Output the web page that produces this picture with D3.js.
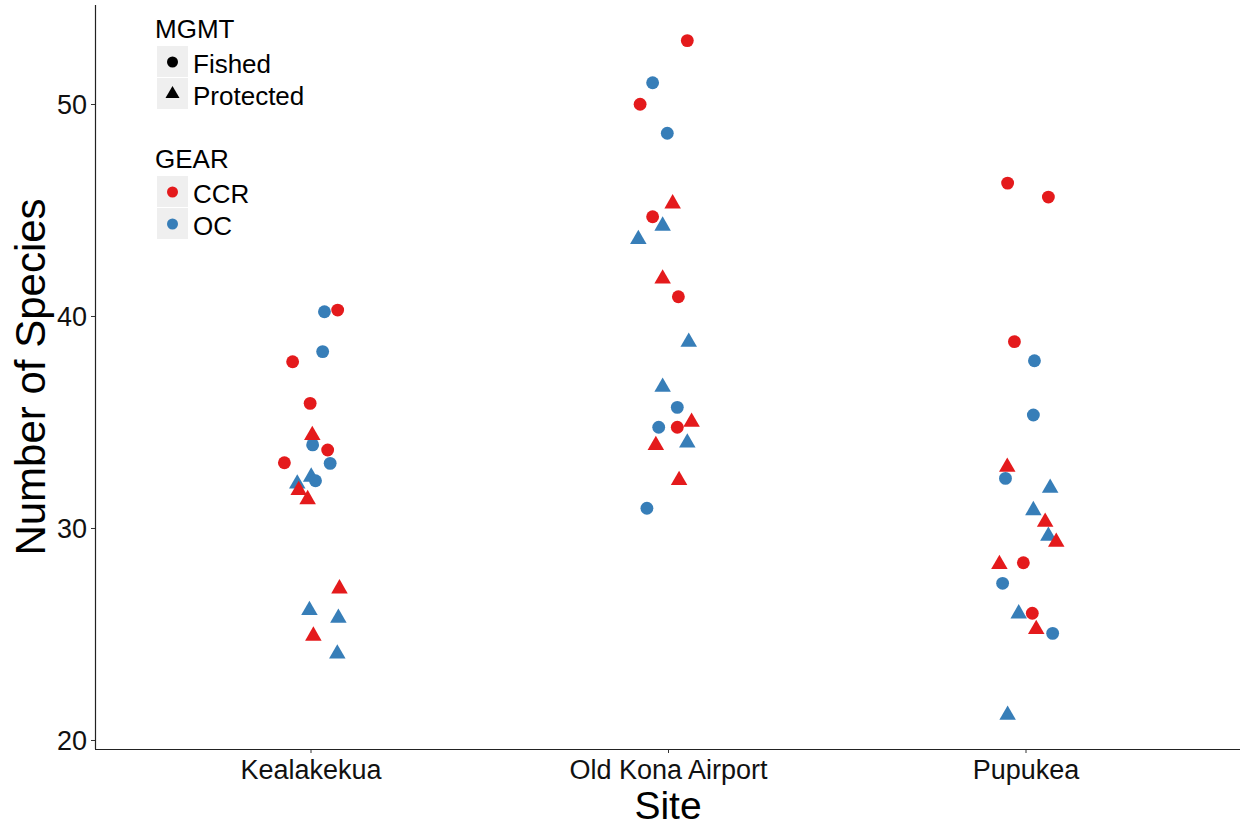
<!DOCTYPE html>
<html>
<head>
<meta charset="utf-8">
<script src="https://cdn.jsdelivr.net/npm/d3@7"></script>
<style>
  html, body { margin: 0; padding: 0; background: #ffffff; }
  svg { display: block; font-family: "Liberation Sans", Arial, sans-serif; }
</style>
</head>
<body>
<svg id="chart" width="1241" height="826"></svg>
<script>
// Sites along the x axis
const sites = ["Kealakekua", "Old Kona Airport", "Pupukea"];
const yTicks = [20, 30, 40, 50];

const gearLevels = ["CCR", "OC"];
const gearColors = ["#E41A1C", "#377EB8"];
const mgmtLevels = ["Fished", "Protected"];

// Species counts per site (one inner array per site), with horizontal jitter in category-step units
const ccrFished = [
  [40.28, 37.84, 35.88, 33.68, 33.08],
  [52.99, 49.99, 44.68, 40.91, 34.75],
  [46.27, 45.61, 38.79, 28.36, 25.98]
];
const ccrFishedJitter = [
  [0.076, -0.050, -0.001, 0.048, -0.073],
  [0.054, -0.078, -0.043, 0.029, 0.026],
  [-0.050, 0.064, -0.031, -0.006, 0.019]
];

const ocFished = [
  [40.20, 38.32, 33.92, 33.05, 32.23],
  [51.00, 48.62, 35.69, 34.75, 30.93],
  [37.89, 35.33, 32.34, 27.39, 25.03]
];
const ocFishedJitter = [
  [0.039, 0.034, 0.006, 0.055, 0.014],
  [-0.043, -0.002, 0.026, -0.026, -0.059],
  [0.025, 0.022, -0.056, -0.064, 0.076]
];

const ccrProtected = [
  [34.37, 31.78, 31.35, 27.14, 24.91],
  [45.30, 41.76, 35.00, 33.90, 32.25],
  [32.88, 30.28, 29.34, 28.29, 25.22]
];
const ccrProtectedJitter = [
  [0.005, -0.033, -0.008, 0.081, 0.008],
  [0.013, -0.015, 0.066, -0.034, 0.031],
  [-0.051, 0.055, 0.086, -0.073, 0.030]
];

const ocProtected = [
  [32.41, 32.09, 26.12, 25.75, 24.07],
  [44.25, 43.62, 38.77, 36.65, 34.02],
  [31.89, 30.83, 29.62, 25.96, 21.18]
];
const ocProtectedJitter = [
  [0.002, -0.037, -0.003, 0.078, 0.075],
  [-0.015, -0.083, 0.058, -0.015, 0.054],
  [0.069, 0.022, 0.064, -0.019, -0.050]
];

// Long-format rows, in drawing order
const groups = [
  { gear: "OC",  mgmt: "Protected", values: ocProtected,  jitter: ocProtectedJitter },
  { gear: "OC",  mgmt: "Fished",    values: ocFished,     jitter: ocFishedJitter },
  { gear: "CCR", mgmt: "Fished",    values: ccrFished,    jitter: ccrFishedJitter },
  { gear: "CCR", mgmt: "Protected", values: ccrProtected, jitter: ccrProtectedJitter }
];
const rows = [];
groups.forEach(g => {
  sites.forEach((s, i) => {
    g.values[i].forEach((v, k) => {
      rows.push({ site: s, gear: g.gear, mgmt: g.mgmt, species: v, jitter: g.jitter[i][k] });
    });
  });
});

const svg = d3.select("#chart");
const panel = { left: 95, right: 1240, top: 5, bottom: 749 };

const x = d3.scalePoint().domain(sites).range([panel.left + 1, panel.right]).padding(0.6);
const y = d3.scaleLinear().domain([19.575, 54.67]).range([panel.bottom, panel.top]);
const color = d3.scaleOrdinal().domain(gearLevels).range(gearColors);
const shape = d3.scaleOrdinal().domain(mgmtLevels).range([d3.symbolCircle, d3.symbolTriangle]);
const symbolSize = { Fished: 130, Protected: 118 };

// Axes
const xAxis = svg.append("g")
  .attr("transform", `translate(0,${panel.bottom})`)
  .call(d3.axisBottom(x).tickSize(4).tickPadding(8).tickSizeOuter(0));
const yAxis = svg.append("g")
  .attr("transform", `translate(${panel.left},0)`)
  .call(d3.axisLeft(y).tickValues(yTicks).tickSize(4).tickPadding(4).tickSizeOuter(0));

[xAxis, yAxis].forEach(a => {
  a.select(".domain").remove();
  a.selectAll(".tick line").attr("stroke", "#333").attr("stroke-width", 1);
  a.selectAll(".tick text").attr("fill", "#111").style("font-size", "27px").attr("font-family", null);
});
xAxis.selectAll(".tick text").attr("dy", "0.68em");
yAxis.selectAll(".tick text").attr("dy", "0.35em");

svg.append("line")
  .attr("x1", panel.left).attr("x2", panel.right)
  .attr("y1", panel.bottom + 0.5).attr("y2", panel.bottom + 0.5)
  .attr("stroke", "#222").attr("stroke-width", 1.2);
svg.append("line")
  .attr("x1", panel.left + 0.5).attr("x2", panel.left + 0.5)
  .attr("y1", panel.top).attr("y2", panel.bottom)
  .attr("stroke", "#222").attr("stroke-width", 1.2);

// Axis titles
svg.append("text")
  .attr("x", x("Old Kona Airport")).attr("y", 819)
  .attr("text-anchor", "middle").attr("fill", "#000")
  .style("font-size", "39px").text("Site");
svg.append("text")
  .attr("transform", `translate(45,${(panel.top + panel.bottom) / 2}) rotate(-90)`)
  .attr("text-anchor", "middle").attr("fill", "#000")
  .style("font-size", "42px").text("Number of Species");

// Points
const step = x.step();
svg.append("g").selectAll("path")
  .data(rows)
  .join("path")
  .attr("transform", d => `translate(${x(d.site) + d.jitter * step},${y(d.species)})`)
  .attr("d", d => d3.symbol().type(shape(d.mgmt)).size(symbolSize[d.mgmt])())
  .attr("fill", d => color(d.gear));

// Legends
const legend = svg.append("g").style("font-size", "26px");
const keyX = 157, keyW = 31, keyH = 32;

function drawLegend(title, titleY, boxTop, items) {
  legend.append("text").attr("x", 155).attr("y", titleY).attr("fill", "#000").text(title);
  items.forEach((it, i) => {
    const top = boxTop + i * keyH;
    legend.append("rect")
      .attr("x", keyX).attr("y", top).attr("width", keyW).attr("height", keyH - 1)
      .attr("fill", "#efefef");
    legend.append("path")
      .attr("transform", `translate(${keyX + keyW / 2},${top + keyH / 2})`)
      .attr("d", d3.symbol().type(it.symbol).size(it.size)())
      .attr("fill", it.fill);
    legend.append("text")
      .attr("x", 193).attr("y", top + keyH / 2 + 2).attr("dy", "0.36em")
      .attr("fill", "#000").text(it.label);
  });
}

drawLegend("MGMT", 38, 46, mgmtLevels.map(m => ({
  label: m, symbol: shape(m), fill: "#000", size: m === "Fished" ? 95 : 85
})));
drawLegend("GEAR", 168, 176, gearLevels.map(g => ({
  label: g, symbol: d3.symbolCircle, fill: color(g), size: 95
})));
</script>
</body>
</html>
